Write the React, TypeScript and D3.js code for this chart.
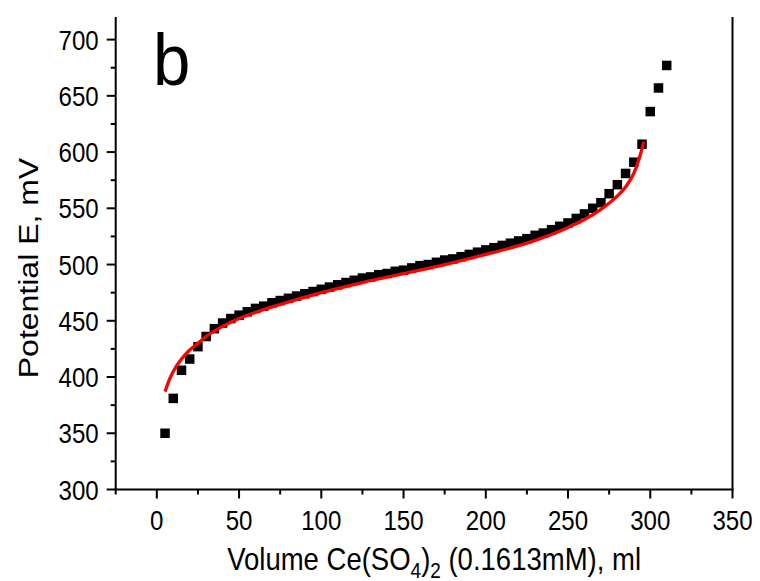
import React from "react";
import * as d3 from "d3";

const volumes = [5,10,15,20,25,30,35,40,45,50,55,60,65,70,75,80,85,90,95,100,105,110,115,120,125,130,135,140,145,150,155,160,165,170,175,180,185,190,195,200,205,210,215,220,225,230,235,240,245,250,255,260,265,270,275,280,285,290,295,300,305,310];
const potentials = [350,381,406,416,427,436,443,448,452,455,458,461,463,466,468,470,472,474,476,478,480,482,484,486,488,489,491,492,494,495,497,499,500,502,504,505,507,509,511,513,515,517,519,521,523,526,528,531,534,537,541,545,550,555,563,571,581,591,607,636,657,677];

const fitVolumes = [5,8,10,15,20,25,30,40,50,60,75,100,125,150,175,200,225,250,260,270,280,285,290,293,295,296];
const fitPotentials = [387,399,405,416,424,430,436,445,452,457.5,464.5,475,484,492,500,509,519,533,540,549,561,569,581,593,603,609];

const xTicks = [0,50,100,150,200,250,300,350];
const xMinor = [-25,25,75,125,175,225,275,325];
const yTicks = [300,350,400,450,500,550,600,650,700];
const yMinor = [325,375,425,475,525,575,625,675,725];

const W = 760, H = 581;
const SX = 0.86;

export default function App() {
  const x = d3.scaleLinear().domain([-25, 350]).range([115.7, 732.5]);
  const y = d3.scaleLinear().domain([300, 720]).range([489.5, 17.1]);
  const line = d3.line<number>()
    .x((_, i) => x(fitVolumes[i]))
    .y((d) => y(d))
    .curve(d3.curveMonotoneX);
  const font = "Liberation Sans, Arial, sans-serif";
  const sq = 9.5;
  return (
    <svg width={W} height={H} style={{ position: "absolute", left: 0, top: 0, background: "#fff" }} fontFamily={font}>
      <rect x={0} y={0} width={W} height={H} fill="#fff" />
      {volumes.map((v, i) => (
        <rect key={i} x={x(v) - sq / 2} y={y(potentials[i]) - sq / 2} width={sq} height={sq} fill="#000" />
      ))}
      <path d={line(fitPotentials) || ""} fill="none" stroke="#ff0000" strokeWidth={3.3} />
      <line x1={x(-25)} x2={x(-25)} y1={y(720)} y2={y(300) + 1} stroke="#000" strokeWidth={2} />
      <line x1={x(350)} x2={x(350)} y1={y(720)} y2={y(300) + 1} stroke="#000" strokeWidth={2} />
      <line x1={x(-25) - 1} x2={x(350) + 1} y1={y(300)} y2={y(300)} stroke="#000" strokeWidth={2} />
      {xTicks.map((t) => (
        <g key={"xt" + t}>
          <line x1={x(t)} x2={x(t)} y1={y(300)} y2={y(300) + 9} stroke="#000" strokeWidth={2} />
          <g transform={`translate(${x(t)},${y(300) + 40}) scale(${SX},1)`}>
            <text textAnchor="middle" fontSize={28} fill="#000">{t}</text>
          </g>
        </g>
      ))}
      {xMinor.map((t) => (
        <line key={"xm" + t} x1={x(t)} x2={x(t)} y1={y(300)} y2={y(300) + 5} stroke="#000" strokeWidth={2} />
      ))}
      {yTicks.map((t) => (
        <g key={"yt" + t}>
          <line x1={x(-25) - 9} x2={x(-25)} y1={y(t)} y2={y(t)} stroke="#000" strokeWidth={2} />
          <g transform={`translate(${x(-25) - 17},${y(t) + 10}) scale(${SX},1)`}>
            <text textAnchor="end" fontSize={28} fill="#000">{t}</text>
          </g>
        </g>
      ))}
      {yMinor.filter((t) => t <= 720).map((t) => (
        <line key={"ym" + t} x1={x(-25) - 5} x2={x(-25)} y1={y(t)} y2={y(t)} stroke="#000" strokeWidth={2} />
      ))}
      <g transform={`translate(153,85) scale(0.92,1)`}>
        <text fontSize={73} fill="#000">b</text>
      </g>
      <g transform={`translate(${(115.7 + 732.5) / 2 + 10},570) scale(${SX},1)`}>
        <text textAnchor="middle" fontSize={32} fill="#000">
          Volume Ce(SO<tspan fontSize={22} dy={8}>4</tspan><tspan dy={-8}>)</tspan><tspan fontSize={22} dy={8}>2</tspan><tspan dy={-8}> (0.1613mM), ml</tspan>
        </text>
      </g>
      <g transform={`translate(38,268) scale(${SX},1) rotate(-90)`}>
        <text textAnchor="middle" fontSize={32} fill="#000">Potential E, mV</text>
      </g>
    </svg>
  );
}
